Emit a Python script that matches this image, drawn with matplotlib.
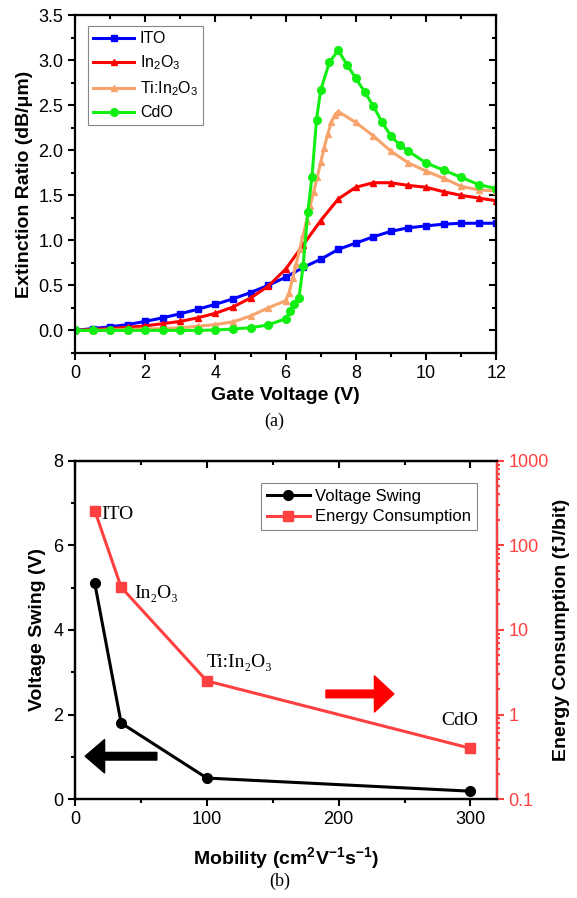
import matplotlib
matplotlib.use("Agg")
import matplotlib.pyplot as plt
from matplotlib.ticker import MultipleLocator, FormatStrFormatter, LogLocator, NullFormatter

plt.rcParams["font.family"] = ["Liberation Sans", "DejaVu Sans"]
plt.rcParams["mathtext.fontset"] = "custom"
plt.rcParams["mathtext.rm"] = "Liberation Sans"
plt.rcParams["mathtext.bf"] = "Liberation Sans:bold"

# ---------------- datos (a) ----------------
v_ito = [0, 0.5, 1, 1.5, 2, 2.5, 3, 3.5, 4, 4.5, 5, 5.5, 6, 6.5, 7, 7.5, 8, 8.5,
         9, 9.5, 10, 10.5, 11, 11.5, 12]
er_ito = [0, 0.02, 0.04, 0.065, 0.10, 0.14, 0.185, 0.235, 0.29, 0.35, 0.42, 0.50,
          0.59, 0.70, 0.79, 0.90, 0.97, 1.04, 1.10, 1.14, 1.16, 1.18, 1.19, 1.19, 1.19]

v_in2o3 = v_ito
er_in2o3 = [0, 0.01, 0.02, 0.035, 0.05, 0.075, 0.10, 0.14, 0.19, 0.26, 0.36, 0.49,
            0.68, 0.95, 1.22, 1.46, 1.59, 1.64, 1.64, 1.61, 1.59, 1.54, 1.50, 1.47, 1.44]

v_tiino = [0, 0.5, 1, 1.5, 2, 2.5, 3, 3.5, 4, 4.5, 5, 5.5, 6, 6.1, 6.2, 6.3, 6.4,
           6.5, 6.6, 6.7, 6.8, 6.9, 7.0, 7.1, 7.2, 7.3, 7.4, 7.5, 8, 8.5, 9, 9.5,
           10, 10.5, 11, 11.5, 12]
er_tiino = [0, 0, 0.005, 0.01, 0.015, 0.02, 0.03, 0.045, 0.065, 0.095, 0.16, 0.25,
            0.33, 0.42, 0.58, 0.74, 0.90, 1.06, 1.22, 1.38, 1.54, 1.70, 1.87, 2.03,
            2.18, 2.31, 2.39, 2.43, 2.31, 2.16, 1.99, 1.86, 1.77, 1.69, 1.60, 1.56, 1.55]

v_cdo = [0, 0.5, 1, 1.5, 2, 2.5, 3, 3.5, 4, 4.5, 5, 5.5, 6, 6.13, 6.25, 6.38, 6.5,
         6.63, 6.75, 6.88, 7.0, 7.25, 7.5, 7.75, 8.0, 8.25, 8.5, 8.75, 9.0, 9.25,
         9.5, 10, 10.5, 11, 11.5, 12]
er_cdo = [0, 0, 0, 0, 0, 0, 0, 0, 0.005, 0.015, 0.03, 0.06, 0.13, 0.21, 0.29, 0.36,
          0.72, 1.31, 1.70, 2.34, 2.67, 2.98, 3.11, 2.95, 2.80, 2.65, 2.49, 2.31,
          2.16, 2.06, 1.99, 1.86, 1.78, 1.70, 1.62, 1.575]

# ---------------- datos (b) ----------------
mobility = [15, 35, 100, 300]
voltage_swing = [5.1, 1.8, 0.5, 0.19]
energy = [257, 32, 2.5, 0.40]
materiales = ["ITO", "In\u2082O\u2083", "Ti:In\u2082O\u2083", "CdO"]

c_blue = "#0000FF"
c_red = "#FF0000"
c_orange = "#F7A46C"
c_green = "#11EE11"
c_red_b = "#FF4040"

fig = plt.figure(figsize=(5.77, 8.98), dpi=100)

# ====================== (a) ======================
ax = fig.add_axes([0.130, 0.607, 0.730, 0.376])
ax.plot(v_ito, er_ito, "s-", color=c_blue, lw=2.2, ms=4.5, label="ITO")
ax.plot(v_in2o3, er_in2o3, "^-", color=c_red, lw=2.2, ms=5, label=r"In$_2$O$_3$")
ax.plot(v_tiino, er_tiino, "^-", color=c_orange, lw=2.2, ms=4, label=r"Ti:In$_2$O$_3$")
ax.plot(v_cdo, er_cdo, "o-", color=c_green, lw=2.2, ms=5.5, label="CdO")

ax.set_xlim(0, 12)
ax.set_ylim(-0.25, 3.5)
ax.xaxis.set_major_locator(MultipleLocator(2))
ax.xaxis.set_minor_locator(MultipleLocator(1))
ax.yaxis.set_major_locator(MultipleLocator(0.5))
ax.yaxis.set_minor_locator(MultipleLocator(0.25))
ax.yaxis.set_major_formatter(FormatStrFormatter("%.1f"))
ax.tick_params(which="both", direction="out", width=1.5, labelsize=13)
ax.tick_params(which="major", length=5)
ax.tick_params(which="minor", length=3)
for s in ax.spines.values():
    s.set_linewidth(1.6)

sx = ax.secondary_xaxis("top")
sx.xaxis.set_major_locator(MultipleLocator(2))
sx.xaxis.set_minor_locator(MultipleLocator(1))
sx.tick_params(which="both", direction="in", width=1.5, labeltop=False)
sx.tick_params(which="major", length=5)
sx.tick_params(which="minor", length=3)
sy = ax.secondary_yaxis("right")
sy.yaxis.set_major_locator(MultipleLocator(0.5))
sy.yaxis.set_minor_locator(MultipleLocator(0.25))
sy.tick_params(which="both", direction="in", width=1.5, labelright=False)
sy.tick_params(which="major", length=5)
sy.tick_params(which="minor", length=3)

ax.set_xlabel("Gate Voltage (V)", fontsize=14, fontweight="bold")
ax.set_ylabel("Extinction Ratio (dB/\u03bcm)", fontsize=14, fontweight="bold")
ax.xaxis.set_label_coords(0.5, -0.100)
ax.yaxis.set_label_coords(-0.100, 0.5)

leg = ax.legend(loc="upper left", bbox_to_anchor=(0.031, 0.967), borderaxespad=0,
                fontsize=11.5, handlelength=2.6, handletextpad=0.35,
                fancybox=False, edgecolor="#888888", framealpha=1,
                labelspacing=0.45, borderpad=0.3)
leg.get_frame().set_linewidth(0.8)

fig.text(0.476, 0.531, "(a)", ha="center", va="center", fontsize=13,
         family=["Liberation Serif", "DejaVu Serif"])

# ====================== (b) ======================
bx = fig.add_axes([0.130, 0.110, 0.731, 0.377])
l1, = bx.plot(mobility, voltage_swing, "o-", color="black", lw=2.2, ms=7,
              label="Voltage Swing")
bx.set_xlim(0, 320)
bx.set_ylim(0, 8)
bx.xaxis.set_major_locator(MultipleLocator(100))
bx.xaxis.set_minor_locator(MultipleLocator(50))
bx.yaxis.set_major_locator(MultipleLocator(2))
bx.yaxis.set_minor_locator(MultipleLocator(1))
bx.tick_params(which="both", direction="out", width=1.5, labelsize=13, right=False)
bx.tick_params(which="major", length=5)
bx.tick_params(which="minor", length=3)
for s in bx.spines.values():
    s.set_linewidth(1.6)

sbx = bx.secondary_xaxis("top")
sbx.xaxis.set_major_locator(MultipleLocator(100))
sbx.xaxis.set_minor_locator(MultipleLocator(50))
sbx.tick_params(which="both", direction="in", width=1.5, labeltop=False)
sbx.tick_params(which="major", length=5)
sbx.tick_params(which="minor", length=3)

tx = bx.twinx()
l2, = tx.plot(mobility, energy, "s-", color=c_red_b, lw=2.2, ms=6.5,
              label="Energy Consumption")
tx.set_yscale("log")
tx.set_ylim(0.1, 1000)
tx.yaxis.set_major_locator(LogLocator(base=10))
tx.yaxis.set_minor_locator(LogLocator(base=10, subs=range(2, 10)))
tx.yaxis.set_minor_formatter(NullFormatter())
tx.yaxis.set_major_formatter(FormatStrFormatter("%g"))
tx.tick_params(which="both", direction="out", width=1.5, labelsize=13,
               colors=c_red_b)
tx.tick_params(which="major", length=5)
tx.tick_params(which="minor", length=2.5)
for s in tx.spines.values():
    s.set_linewidth(1.6)
tx.spines["right"].set_color(c_red_b)

bx.set_xlabel(r"Mobility (cm$^{\mathbf{2}}$V$^{\mathbf{-1}}$s$^{\mathbf{-1}}$)",
              fontsize=14, fontweight="bold")
bx.set_ylabel("Voltage Swing (V)", fontsize=14, fontweight="bold")
tx.set_ylabel("Energy Consumption (fJ/bit)", fontsize=14, fontweight="bold",
              color="black")
bx.xaxis.set_label_coords(0.5, -0.136)
bx.yaxis.set_label_coords(-0.069, 0.5)
tx.yaxis.set_label_coords(1.133, 0.5)

# etiquetas de material
serif = ["Liberation Serif", "DejaVu Serif"]
offsets = [(6, -4), (13, -6), (0, 18), (-29, 28)]
for m, e, name, (dx, dy) in zip(mobility, energy, materiales, offsets):
    tx.annotate(name, xy=(m, e), xytext=(dx, dy), textcoords="offset pixels",
                fontsize=14, family=serif, ha="left", va="center")

# flechas
tx.annotate("", xy=(0.756, 0.311), xytext=(0.595, 0.311), xycoords="axes fraction",
            arrowprops=dict(arrowstyle="simple,head_length=1.4,head_width=2.6,tail_width=0.55",
                            color="#FF0000", shrinkA=0, shrinkB=0, mutation_scale=10))
tx.annotate("", xy=(0.024, 0.127), xytext=(0.194, 0.127), xycoords="axes fraction",
            arrowprops=dict(arrowstyle="simple,head_length=1.4,head_width=2.4,tail_width=0.55",
                            color="black", shrinkA=0, shrinkB=0, mutation_scale=10))

leg2 = tx.legend(handles=[l1, l2], loc="upper right", bbox_to_anchor=(0.953, 0.935),
                 borderaxespad=0, fontsize=12, handlelength=2.6, handletextpad=0.3,
                 fancybox=False, edgecolor="#888888", framealpha=1,
                 labelspacing=0.35, borderpad=0.35)
leg2.get_frame().set_linewidth(0.8)

fig.text(0.485, 0.019, "(b)", ha="center", va="center", fontsize=13, family=serif)

fig.savefig("out.png", dpi=100)
